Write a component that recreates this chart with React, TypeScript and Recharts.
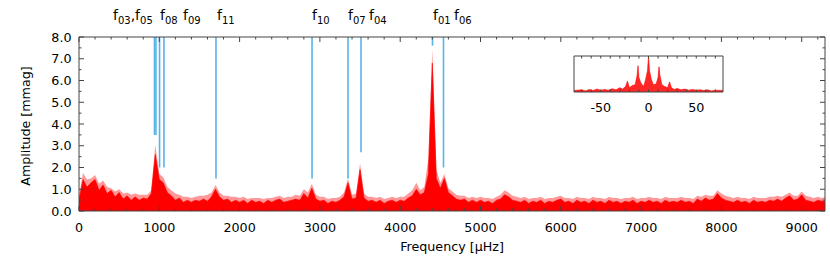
import React from "react";
import { ComposedChart, AreaChart, Area, Line, XAxis, YAxis, ReferenceLine } from "recharts";

// amplitude spectrum [mmag], one value every 50 µHz from 0 µHz
const FREQ_STEP = 50;
const amplitude = [
  0.5, 1.45, 1.1, 1.3, 1.45, 0.95, 1.2, 0.8, 0.95, 0.65,
  0.85, 0.55, 0.7, 0.5, 0.65, 0.5, 0.6, 0.55, 0.8, 2.6,
  1.45, 1.3, 0.85, 0.7, 0.5, 0.6, 0.4, 0.5, 0.4, 0.5,
  0.45, 0.55, 0.45, 0.65, 1.0, 0.65, 0.5, 0.55, 0.4, 0.5,
  0.4, 0.5, 0.35, 0.5, 0.4, 0.45, 0.35, 0.5, 0.4, 0.5,
  0.55, 0.4, 0.45, 0.5, 0.55, 0.5, 0.8, 0.6, 1.05, 0.55,
  0.45, 0.5, 0.35, 0.45, 0.4, 0.5, 0.65, 1.3, 0.55, 0.6,
  1.9, 0.6, 0.45, 0.5, 0.4, 0.5, 0.35, 0.45, 0.5, 0.4,
  0.5, 0.45, 0.6, 0.7, 1.0, 0.75, 0.85, 1.7, 6.8, 1.5,
  1.05, 1.5, 0.85, 0.7, 0.55, 0.5, 0.55, 0.4, 0.5, 0.4,
  0.5, 0.4, 0.45, 0.35, 0.5, 0.55, 0.75, 0.65, 0.5, 0.45,
  0.4, 0.5, 0.35, 0.45, 0.4, 0.5, 0.35, 0.45, 0.4, 0.5,
  0.55, 0.4, 0.45, 0.35, 0.5, 0.4, 0.45, 0.35, 0.5, 0.4,
  0.45, 0.35, 0.5, 0.4, 0.45, 0.35, 0.45, 0.4, 0.5, 0.35,
  0.45, 0.4, 0.5, 0.4, 0.45, 0.35, 0.5, 0.4, 0.45, 0.4,
  0.5, 0.4, 0.45, 0.35, 0.55, 0.45, 0.6, 0.5, 0.55, 0.8,
  0.6, 0.5, 0.45, 0.4, 0.5, 0.4, 0.45, 0.35, 0.5, 0.4,
  0.45, 0.4, 0.5, 0.45, 0.55, 0.45, 0.6, 0.7, 0.5, 0.55,
  0.75, 0.5, 0.45, 0.4, 0.5, 0.45, 0.45,
];
// upper (light) envelope of the spectrum
const amplitudeTop = [
  0.7, 1.75, 1.45, 1.5, 1.65, 1.25, 1.4, 1.1, 1.05, 0.9,
  1.0, 0.8, 0.85, 0.75, 0.8, 0.75, 0.75, 0.75, 0.95, 3.05,
  1.7, 1.55, 1.1, 0.95, 0.8, 0.75, 0.65, 0.65, 0.6, 0.65,
  0.7, 0.7, 0.75, 0.85, 1.2, 0.85, 0.7, 0.7, 0.65, 0.65,
  0.6, 0.65, 0.55, 0.6, 0.6, 0.6, 0.55, 0.6, 0.6, 0.65,
  0.7, 0.6, 0.65, 0.65, 0.75, 0.7, 1.0, 0.85, 1.25, 0.75,
  0.65, 0.65, 0.55, 0.6, 0.6, 0.65, 0.85, 1.5, 0.75, 0.8,
  2.2, 0.8, 0.65, 0.65, 0.6, 0.65, 0.55, 0.6, 0.65, 0.6,
  0.65, 0.65, 0.8, 0.95, 1.3, 0.95, 1.1, 2.4, 7.45, 1.9,
  1.3, 1.7, 1.05, 0.9, 0.75, 0.7, 0.7, 0.6, 0.65, 0.6,
  0.65, 0.6, 0.6, 0.55, 0.65, 0.75, 0.95, 0.85, 0.7, 0.65,
  0.6, 0.65, 0.55, 0.6, 0.6, 0.65, 0.55, 0.6, 0.6, 0.65,
  0.7, 0.6, 0.6, 0.55, 0.65, 0.6, 0.6, 0.55, 0.65, 0.6,
  0.6, 0.55, 0.65, 0.6, 0.6, 0.55, 0.6, 0.6, 0.65, 0.55,
  0.6, 0.6, 0.65, 0.6, 0.6, 0.55, 0.65, 0.6, 0.6, 0.6,
  0.65, 0.6, 0.6, 0.55, 0.7, 0.65, 0.75, 0.7, 0.7, 0.95,
  0.8, 0.7, 0.65, 0.6, 0.65, 0.6, 0.6, 0.55, 0.65, 0.6,
  0.6, 0.6, 0.65, 0.65, 0.7, 0.65, 0.75, 0.85, 0.7, 0.7,
  0.9, 0.7, 0.65, 0.6, 0.65, 0.6, 0.65,
];

// identified frequencies [µHz] and where their markers stop [mmag]
const modeFreqs = [940, 958, 1003, 1058, 1706, 2902, 3350, 3512, 4402, 4539];
const modeLineEnds = [3.5, 3.5, 2.0, 2.0, 1.5, 1.5, 1.5, 2.7, 7.6, 2.0];

// labels above the plot (left edge in µHz) and their subscripts
const labelFreqs = [423, 1009, 1295, 1719, 2902, 3350, 3611, 4408, 4670];
const labelSubs = [["03", "05"], ["08"], ["09"], ["11"], ["10"], ["07"], ["04"], ["01"], ["06"]];

// spectral window (inset)
const winFreq = [-78, -70, -66, -62, -58, -54, -50, -46, -42, -38, -34, -30, -27, -24, -22, -20, -17, -14, -12, -11, -10, -8, -5, -3, -1, 0, 1, 3, 5, 8, 10, 11, 12, 14, 17, 20, 22, 24, 27, 30, 34, 38, 42, 46, 50, 54, 58, 62, 66, 70, 78];
const winAmp = [0.04, 0.06, 0.03, 0.07, 0.04, 0.08, 0.05, 0.07, 0.05, 0.09, 0.06, 0.12, 0.08, 0.15, 0.3, 0.12, 0.18, 0.2, 0.45, 0.73, 0.4, 0.25, 0.15, 0.35, 0.6, 1.0, 0.6, 0.35, 0.2, 0.22, 0.4, 0.7, 0.45, 0.2, 0.15, 0.12, 0.28, 0.12, 0.07, 0.1, 0.06, 0.08, 0.05, 0.07, 0.05, 0.06, 0.04, 0.06, 0.03, 0.05, 0.04];

const xMinor = Array.from({ length: 47 }, (_, i) => i * 200);
const yMinor = Array.from({ length: 17 }, (_, i) => i * 0.5);
const winTicks = [-70, -60, -50, -40, -30, -20, -10, 0, 10, 20, 30, 40, 50, 60, 70];

const spectrum = amplitude.map((a, i) => ({ f: i * FREQ_STEP, amp: a, top: amplitudeTop[i] }));
const windowData = winFreq.map((d, i) => ({ d, a: winAmp[i] }));

const FONT = "'DejaVu Sans', sans-serif";
const AXIS = "#444";
const BLUE = "#56b4e9";

const BottomTick = ({ x, y, payload }: any) => {
  const major = payload.value % 1000 === 0;
  return (
    <g>
      <line x1={x} y1={y} x2={x} y2={y - (major ? 5 : 2.5)} stroke={AXIS} />
      {major && (
        <text x={x} y={y + 20.5} textAnchor="middle" fontSize={12.7} fontFamily={FONT} fill="#000">
          {payload.value}
        </text>
      )}
    </g>
  );
};

const TopTick = ({ x, y, payload }: any) => {
  const li = labelFreqs.indexOf(payload.value);
  if (li >= 0) {
    const subs = labelSubs[li];
    return (
      <text x={x} y={20} fontSize={14} fontFamily={FONT} fill="#000">
        <tspan>f</tspan>
        <tspan fontSize={10} dy={3.5}>{subs[0]}</tspan>
        {subs.length > 1 && <tspan dy={-3.5}>,f</tspan>}
        {subs.length > 1 && <tspan fontSize={10} dy={3.5}>{subs[1]}</tspan>}
      </text>
    );
  }
  const major = payload.value % 1000 === 0;
  return <line x1={x} y1={y} x2={x} y2={y + (major ? 5 : 2.5)} stroke={AXIS} />;
};

const LeftTick = ({ x, y, payload }: any) => {
  const major = Number.isInteger(payload.value);
  return (
    <g>
      <line x1={x} y1={y} x2={x + (major ? 5 : 2.5)} y2={y} stroke={AXIS} />
      {major && (
        <text x={x - 7.5} y={y + 4.6} textAnchor="end" fontSize={12.7} fontFamily={FONT} fill="#000">
          {payload.value.toFixed(1)}
        </text>
      )}
    </g>
  );
};

const RightTick = ({ x, y, payload }: any) => {
  const major = Number.isInteger(payload.value);
  return <line x1={x} y1={y} x2={x - (major ? 5 : 2.5)} y2={y} stroke={AXIS} />;
};

const InsetBottomTick = ({ x, y, payload }: any) => {
  const labelled = payload.value % 50 === 0;
  return (
    <g>
      <line x1={x} y1={y} x2={x} y2={y - 2.5} stroke={AXIS} />
      {labelled && (
        <text x={x} y={y + 20} textAnchor="middle" fontSize={12.7} fontFamily={FONT} fill="#000">
          {payload.value}
        </text>
      )}
    </g>
  );
};

const InsetTopTick = ({ x, y }: any) => <line x1={x} y1={y} x2={x} y2={y + 2.5} stroke={AXIS} />;

const XTitle = ({ viewBox }: any) => (
  <text x={viewBox.x + viewBox.width / 2} y={viewBox.y + 40} textAnchor="middle" fontSize={12.7} fontFamily={FONT} fill="#000">
    Frequency [µHz]
  </text>
);

const YTitle = ({ viewBox }: any) => {
  const cx = viewBox.x + viewBox.width - 49;
  const cy = viewBox.y + viewBox.height / 2 + 2;
  return (
    <text x={cx} y={cy} transform={`rotate(-90 ${cx} ${cy})`} textAnchor="middle" fontSize={12.7} fontFamily={FONT} fill="#000">
      Amplitude [mmag]
    </text>
  );
};

const axisCommon = {
  type: "number" as const,
  allowDataOverflow: true,
  interval: 0 as const,
  tickSize: 0,
  tickMargin: 0,
  tickLine: false,
  axisLine: { stroke: AXIS },
};

export default function App() {
  return (
    <div style={{ position: "absolute", left: 0, top: 0, width: 830, height: 280, background: "#fff" }}>
      <ComposedChart width={830} height={280} data={spectrum} margin={{ top: 36, right: 4, bottom: 68, left: 78 }}>
        <XAxis {...axisCommon} dataKey="f" domain={[0, 9290]} ticks={xMinor} height={1} tick={BottomTick} label={XTitle} />
        <XAxis
          {...axisCommon}
          xAxisId="top"
          dataKey="f"
          orientation="top"
          domain={[0, 9290]}
          ticks={[...xMinor, ...labelFreqs]}
          height={1}
          tick={TopTick}
        />
        <YAxis {...axisCommon} domain={[0, 8]} ticks={yMinor} width={1} tick={LeftTick} label={YTitle} />
        <YAxis {...axisCommon} yAxisId="right" orientation="right" domain={[0, 8]} ticks={yMinor} width={1} tick={RightTick} />
        <Area type="linear" dataKey="top" stroke="none" fill="#ff0000" fillOpacity={0.4} isAnimationActive={false} />
        <Area type="linear" dataKey="amp" stroke="#ff0000" strokeWidth={0.6} fill="#ff0000" fillOpacity={1} isAnimationActive={false} />
        {/* invisible series so the mirrored top/right axes share the same scales */}
        <Line xAxisId="top" yAxisId="right" dataKey="amp" stroke="none" dot={false} activeDot={false} isAnimationActive={false} />
        {modeFreqs.map((f, i) => (
          <ReferenceLine
            key={i}
            segment={[{ x: f, y: 8 }, { x: f, y: modeLineEnds[i] }]}
            stroke={BLUE}
            strokeWidth={1.6}
            ifOverflow="visible"
          />
        ))}
      </ComposedChart>
      <div style={{ position: "absolute", left: 554, top: 46 }}>
        <AreaChart width={190} height={76} data={windowData} margin={{ top: 9, right: 20, bottom: 29, left: 19 }}>
          <XAxis {...axisCommon} dataKey="d" domain={[-78, 78]} ticks={winTicks} height={1} tick={InsetBottomTick} />
          <XAxis {...axisCommon} xAxisId="top" dataKey="d" orientation="top" domain={[-78, 78]} ticks={winTicks} height={1} tick={InsetTopTick} />
          <YAxis {...axisCommon} domain={[0, 1]} width={1} tick={false} />
          <YAxis {...axisCommon} yAxisId="right" orientation="right" domain={[0, 1]} width={1} tick={false} />
          <Area type="linear" dataKey="a" stroke="#ff0000" strokeWidth={0.6} fill="#ff0000" fillOpacity={0.85} isAnimationActive={false} />
          <Line xAxisId="top" yAxisId="right" dataKey="a" stroke="none" dot={false} activeDot={false} isAnimationActive={false} />
        </AreaChart>
      </div>
    </div>
  );
}
